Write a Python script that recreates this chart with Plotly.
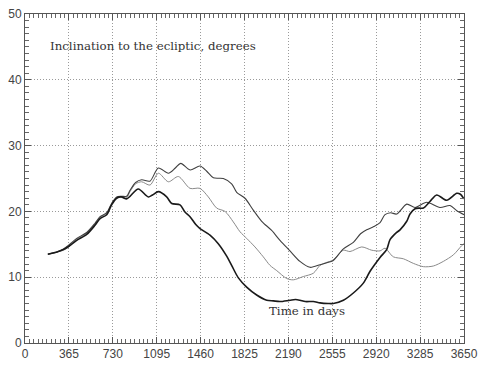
import plotly.graph_objects as go

# ---- data ----
x_ticks = [0, 365, 730, 1095, 1460, 1825, 2190, 2555, 2920, 3285, 3650]
y_ticks = [0, 10, 20, 30, 40, 50]

days_a = [190, 260, 320, 365, 430, 513, 582, 624, 679, 720, 762, 800, 845, 873, 920, 970, 1039,
          1109, 1192, 1250, 1295, 1372, 1455, 1511, 1566, 1649, 1718, 1760, 1829, 1898, 1968,
          2051, 2120, 2203, 2286, 2370, 2453, 2510, 2560, 2647, 2730, 2790, 2841, 2900, 2952,
          2993, 3040, 3090, 3174, 3243, 3340, 3450, 3534, 3590, 3650]
incl_a = [13.5, 13.8, 14.3, 14.9, 15.9, 16.8, 18.2, 19.2, 19.8, 21.2, 22.2, 22.3, 22.3, 23.2, 24.4, 24.8, 24.6,
          26.6, 25.8, 26.6, 27.3, 26.3, 26.9, 26.1, 25.1, 25.0, 24.2, 22.9, 22.0, 20.2, 18.5,
          17.1, 15.6, 14.0, 12.4, 11.5, 11.9, 12.2, 12.5, 14.3, 15.3, 16.6, 17.2, 17.7, 18.3,
          19.5, 19.8, 19.6, 21.1, 20.6, 21.4, 20.6, 20.9, 20.1, 19.5]

days_b = [190, 260, 320, 365, 430, 513, 582, 624, 679, 720, 762, 800, 845, 873, 920, 970, 1039,
          1109, 1192, 1275, 1372, 1455, 1524, 1594, 1663, 1732, 1788, 1843, 1912, 1981, 2037,
          2093, 2176, 2231, 2314, 2397, 2453, 2500, 2560, 2647, 2702, 2800, 2883, 2952, 2993,
          3062, 3146, 3229, 3312, 3395, 3478, 3562, 3631, 3650]
incl_b = [13.5, 13.8, 14.1, 14.6, 15.8, 16.7, 18.1, 19.1, 19.7, 21.1, 22.1, 22.2, 22.1, 23.0, 24.2, 24.5, 24.0,
          25.8, 24.5, 25.3, 23.5, 23.5, 22.2, 20.5, 20.0, 18.4, 16.9, 15.9, 14.6, 13.1, 11.8,
          11.0, 9.8, 9.6, 10.1, 10.6, 11.8, 12.2, 12.6, 14.1, 13.9, 14.6, 14.1, 14.0, 14.4,
          13.1, 12.8, 12.1, 11.6, 11.7, 12.4, 13.4, 14.8, 15.1]

days_c = [190, 260, 320, 365, 430, 513, 582, 624, 679, 720, 762, 800, 845, 873, 942, 1025, 1060,
          1109, 1178, 1220, 1289, 1330, 1372, 1420, 1455, 1538, 1607, 1677, 1718, 1774, 1843,
          1926, 2010, 2065, 2120, 2203, 2250, 2286, 2330, 2397, 2453, 2520, 2563, 2647, 2730,
          2813, 2869, 2952, 3007, 3035, 3090, 3118, 3174, 3201, 3243, 3280, 3312, 3367, 3423,
          3506, 3590, 3620, 3650]
incl_c = [13.5, 13.8, 14.2, 14.7, 15.6, 16.5, 17.9, 18.9, 19.5, 21.0, 22.0, 22.2, 21.9, 22.3, 23.4, 22.2, 22.5,
          23.0, 22.2, 21.2, 21.0, 19.9, 19.2, 18.0, 17.4, 16.4, 15.1, 13.2, 11.8, 9.9, 8.5,
          7.3, 6.5, 6.4, 6.3, 6.5, 6.6, 6.5, 6.3, 6.3, 6.1, 6.0, 6.0, 6.5, 7.6,
          9.1, 10.9, 13.0, 14.2, 15.7, 16.8, 17.2, 18.5, 19.6, 20.4, 20.5, 20.5, 21.5, 22.5,
          21.7, 22.75, 22.6, 21.9]

label_top = "Inclination to the ecliptic, degrees"
label_time = "Time in days"

# ---- figure ----
fig = go.Figure()
fig.add_trace(go.Scatter(x=days_b, y=incl_b, mode="lines",
                         line=dict(color="#8a8a8a", width=1, shape="spline", smoothing=0.8),
                         showlegend=False))
fig.add_trace(go.Scatter(x=days_a, y=incl_a, mode="lines",
                         line=dict(color="#404040", width=1.1, shape="spline", smoothing=0.8),
                         showlegend=False))
fig.add_trace(go.Scatter(x=days_c, y=incl_c, mode="lines",
                         line=dict(color="#1a1a1a", width=1.6, shape="spline", smoothing=0.8),
                         showlegend=False))

fig.add_annotation(x=191, y=45.2, xref="x", yref="y", text=label_top, showarrow=False,
                   xanchor="left", yanchor="middle",
                   font=dict(family="DejaVu Serif", size=11.8, color="#333333"))
fig.add_annotation(x=2010, y=4.9, xref="x", yref="y", text=label_time, showarrow=False,
                   xanchor="left", yanchor="middle",
                   font=dict(family="DejaVu Serif", size=11.8, color="#333333"))

axis_common = dict(
    showline=True, linecolor="#555555", linewidth=1, mirror="ticks",
    ticks="inside", tickcolor="#555555", ticklen=6, tickwidth=1,
    showgrid=True, gridcolor="#9a9a9a", griddash="1px,2px", gridwidth=1,
    zeroline=False, automargin=False,
    tickfont=dict(family="Liberation Sans", size=12, color="#444444"),
)

fig.update_xaxes(range=[0, 3650], tickmode="array", tickvals=x_ticks,
                 ticktext=[str(v) for v in x_ticks],
                 minor=dict(dtick=36.5, tick0=0, ticks="inside", ticklen=4,
                            tickcolor="#666666", showgrid=False),
                 **axis_common)
fig.update_yaxes(range=[0, 50], tickmode="array", tickvals=y_ticks,
                 ticktext=[str(v) for v in y_ticks],
                 minor=dict(dtick=1, tick0=0, ticks="inside", ticklen=4,
                            tickcolor="#666666", showgrid=False),
                 **axis_common)

fig.update_layout(width=492, height=371,
                  margin=dict(l=25, r=28, t=14, b=28),
                  paper_bgcolor="white", plot_bgcolor="white")

fig.write_html("out.html", config={"displayModeBar": False, "staticPlot": True},
               post_script="document.body.style.margin='0px';document.body.style.overflow='hidden';")
